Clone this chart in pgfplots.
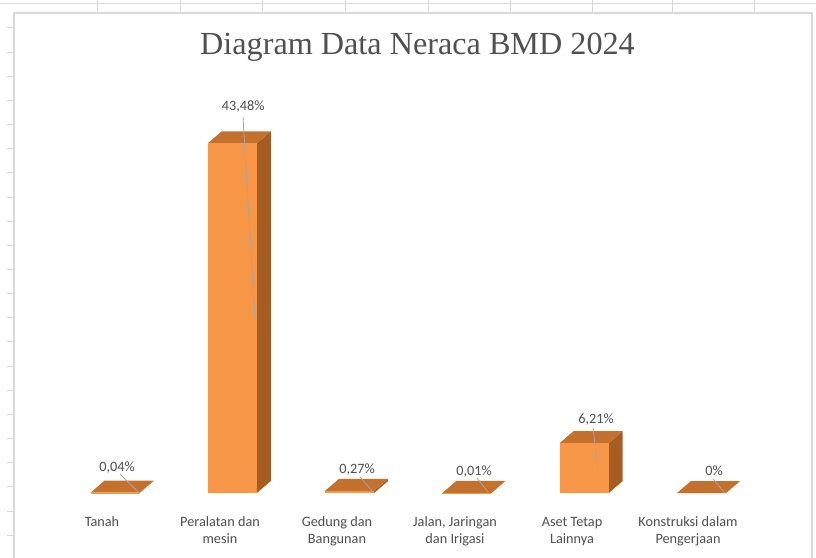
\documentclass[border=0pt]{standalone}
\usepackage{fontspec}
\setmainfont{Carlito}
\newfontfamily\titlefont{Liberation Serif}
\usepackage{pgfplots}
\pgfplotsset{compat=1.18}
\definecolor{barfront}{HTML}{F79646}
\definecolor{bartop}{HTML}{C4712E}
\definecolor{barside}{HTML}{A65D22}
\definecolor{txt}{HTML}{505050}
\definecolor{lead}{HTML}{A6A6A6}
\definecolor{sheet}{HTML}{D9D9D9}
% #1 = category position, #2 = value (%)
\newcommand{\cube}[2]{%
  \pgfmathsetmacro{\xl}{#1-0.20887}%
  \pgfmathsetmacro{\xr}{#1+0.20887}%
  \pgfmathsetmacro{\xlb}{#1-0.20887+0.11935}%
  \pgfmathsetmacro{\xrb}{#1+0.20887+0.11935}%
  \pgfmathsetmacro{\vt}{#2+1.49198}%
  \edef\temp{%
    \noexpand\addplot[fill=barside,draw=none,forget plot] coordinates {(\xr,0) (\xrb,1.49198) (\xrb,\vt) (\xr,#2)};
    \noexpand\addplot[fill=bartop,draw=none,forget plot] coordinates {(\xl,#2) (\xlb,\vt) (\xrb,\vt) (\xr,#2)};
    \noexpand\addplot[fill=barfront,draw=none,forget plot] coordinates {(\xl,0) (\xl,#2) (\xr,#2) (\xr,0)};
  }\temp
}
\begin{document}
\begin{tikzpicture}
\begin{scope}[x=0.75pt,y=-0.75pt,shift={(0pt,417.75pt)}]
\fill[white] (0,0) rectangle (816,557);
% spreadsheet background
\draw[sheet,line width=0.75pt] (0,4) -- (816,4);
\foreach \cx in {97,180,262,345,428,510,592,672,754}{\draw[sheet,line width=0.75pt] (\cx,0) -- (\cx,13);}
\foreach \k in {0,...,21}{\draw[sheet,line width=0.75pt] (7,{28+24.15*\k}) -- (14,{28+24.15*\k});}
\draw[sheet,line width=0.9pt] (14,560) -- (14,13) -- (812,13) -- (812,560);
\end{scope}
\begin{axis}[at={(0pt,0pt)}, anchor=south west, scale only axis,
  width=612pt, height=417.75pt,
  xmin=-0.98039, xmax=5.97613, ymin=-7.9572, ymax=61.295,
  hide axis, clip=false]
\cube{0}{0.04}
\cube{1}{43.48}
\cube{2}{0.27}
\cube{3}{0.01}
\cube{4}{6.21}
\cube{5}{0}
% leader lines of the data labels
\addplot[lead,line width=0.6pt] coordinates {(1.0912,46.75) (1.1935,21.76)};
\addplot[lead,line width=0.6pt] coordinates {(0.0426,2.362) (0.1961,0.124)};
\addplot[lead,line width=0.6pt] coordinates {(2.0887,1.989) (2.1995,0.124)};
\addplot[lead,line width=0.6pt] coordinates {(3.0861,1.865) (3.1799,0.124)};
\addplot[lead,line width=0.6pt] coordinates {(4.0750,8.082) (4.1176,3.108)};
\addplot[lead,line width=0.6pt] coordinates {(5.0980,1.741) (5.1995,0.0)};
\end{axis}
\begin{scope}[x=0.75pt,y=-0.75pt,shift={(0pt,417.75pt)}]
% title
\node[anchor=base,inner sep=0,text=txt,font=\titlefont\fontsize{24.15}{28}\selectfont] at (417.5,55) {Diagram Data Neraca BMD 2024};
% data labels
\begin{scope}[every node/.style={anchor=base,inner sep=0,text=txt,font=\fontsize{10.7}{12}\selectfont}]
\node at (243.3,110.7) {43,48\%};
\node at (117,471) {0,04\%};
\node at (357,473) {0,27\%};
\node at (474,475) {0,01\%};
\node at (596,423) {6,21\%};
\node at (714,475) {0\%};
% category labels
\node at (102,526) {Tanah};
\node at (220,526) {Peralatan dan};
\node at (220,543) {mesin};
\node at (337,526) {Gedung dan};
\node at (337,543) {Bangunan};
\node at (455,526) {Jalan, Jaringan};
\node at (455,543) {dan Irigasi};
\node at (572,526) {Aset Tetap};
\node at (572,543) {Lainnya};
\node at (688,526) {Konstruksi dalam};
\node at (688,543) {Pengerjaan};
\end{scope}
\pgfresetboundingbox
\path (0,0) rectangle (816,557);
\end{scope}
\end{tikzpicture}
\end{document}
